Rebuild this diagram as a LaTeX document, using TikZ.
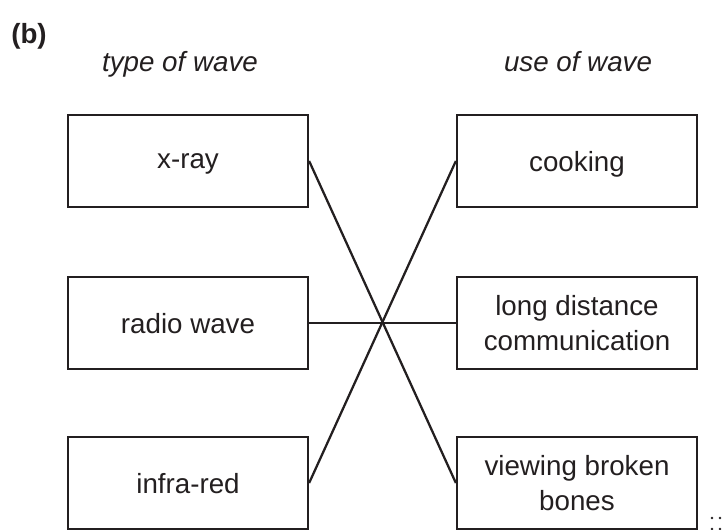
\documentclass[tikz,border=0pt]{standalone}
\usepackage{fontspec}
\setmainfont{Liberation Sans}
\definecolor{ink}{HTML}{231F20}
\begin{document}
\begin{tikzpicture}[x=0.75pt,y=-0.75pt,
  wbox/.style={draw=ink,line width=1.7pt,minimum width=180pt,minimum height=69pt,inner sep=0pt,align=center,text=ink,font=\fontsize{20.8}{26.25}\selectfont},
  oneline/.style={text depth=0pt},
  head/.style={text=ink,font=\fontsize{20.8}{26.25}\selectfont\itshape,anchor=base},
  link/.style={draw=ink,line width=1.7pt},
  dot/.style={fill=ink,draw=none,circle,minimum size=2.2pt,inner sep=0pt}]
\useasboundingbox (0,0) rectangle (725,530);
\node[text=ink,font=\fontsize{20.8}{26.25}\selectfont\bfseries,anchor=base west,inner sep=0pt] (lbl) at (11,44) {(b)};
\node[head] (h1) at (180,72) {type of wave};
\node[head] (h2) at (578,72) {use of wave};
\node[wbox,oneline] (xray) at (188,161) {x-ray};
\node[wbox,oneline] (radio) at (188,323) {radio wave};
\node[wbox,oneline] (infra) at (188,483) {infra-red};
\node[wbox,oneline] (cook) at (577,161) {cooking};
\node[wbox] (comm) at (577,323) {long distance\\communication};
\node[wbox] (bones) at (577,483) {viewing broken\\bones};
\draw[link] (xray.east) -- (bones.west);
\draw[link] (cook.west) -- (infra.east);
\draw[link] (radio.east) -- (comm.west);
\node[dot] (d1) at (712,518) {};
\node[dot] (d2) at (720,518) {};
\node[dot] (d3) at (712,529) {};
\node[dot] (d4) at (720,529) {};
\end{tikzpicture}
\end{document}
